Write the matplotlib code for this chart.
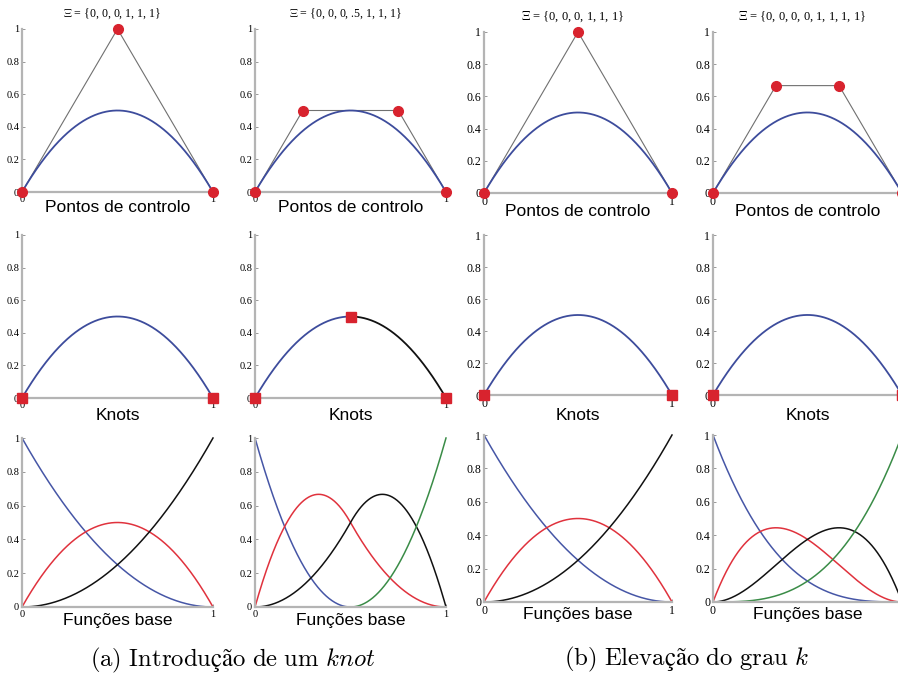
import numpy as np
import matplotlib.pyplot as plt

plt.rcParams['mathtext.fontset'] = 'cm'

W, H = 898, 677

# knot vectors, degrees and control points (one per column)
knots = [
    [0, 0, 0, 1, 1, 1],
    [0, 0, 0, 0.5, 1, 1, 1],
    [0, 0, 0, 1, 1, 1],
    [0, 0, 0, 0, 1, 1, 1, 1],
]
degrees = [2, 2, 2, 3]
ctrl_x = [[0, 0.5, 1], [0, 0.25, 0.75, 1], [0, 0.5, 1], [0, 0.333, 0.667, 1]]
ctrl_y = [[0, 1, 0], [0, 0.5, 0.5, 0], [0, 1, 0], [0, 0.667, 0.667, 0]]
titles = [r"$\Xi$ = {0, 0, 0, 1, 1, 1}", r"$\Xi$ = {0, 0, 0, .5, 1, 1, 1}",
          r"$\Xi$ = {0, 0, 0, 1, 1, 1}", r"$\Xi$ = {0, 0, 0, 0, 1, 1, 1, 1}"]
row_labels = ["Pontos de controlo", "Knots", "Funções base"]
yticks = [0, 0.2, 0.4, 0.6, 0.8, 1]
ytick_labels = ["0", "0.2", "0.4", "0.6", "0.8", "1"]
captions = [r"$\mathrm{(a)\ Introdução\ de\ um\ }\mathit{knot}$",
            r"$\mathrm{(b)\ Elevação\ do\ grau\ }\mathit{k}$"]

blue = "#3d4c9c"
red = "#d8232e"
basis_colors = ["#4656a6", "#e0323d", "#111111", "#3a8c47"]
seg_colors = ["#3d4c9c", "#111111"]

# panel boxes in pixels: x of u=0, x of u=1
col_x = [(22, 213), (255, 446), (484, 672), (713, 902)]
# rows: (y of 1, y of 0) for columns 1-2 and 3-4
rows_ab = [(29, 192), (235, 398), (438, 607)]
rows_cd = [(32, 193), (235, 395), (435, 602)]


def basis(i, k, t, u):
    if k == 0:
        if t[i] < t[i + 1] and t[i + 1] == t[-1]:
            return ((u >= t[i]) & (u <= t[i + 1])).astype(float)
        return ((u >= t[i]) & (u < t[i + 1])).astype(float)
    out = np.zeros_like(u)
    if t[i + k] > t[i]:
        out += (u - t[i]) / (t[i + k] - t[i]) * basis(i, k - 1, t, u)
    if t[i + k + 1] > t[i + 1]:
        out += (t[i + k + 1] - u) / (t[i + k + 1] - t[i + 1]) * basis(i + 1, k - 1, t, u)
    return out


def curve(t, k, px, py, u):
    n = len(px)
    N = [basis(i, k, t, u) for i in range(n)]
    cx = sum(N[i] * px[i] for i in range(n))
    cy = sum(N[i] * py[i] for i in range(n))
    return cx, cy, N


fig = plt.figure(figsize=(W / 100, H / 100), dpi=100)


def make_ax(x0, x1, y1, y0, fs, show_one=True):
    ax = fig.add_axes([x0 / W, (H - y0) / H, (x1 - x0) / W, (y0 - y1) / H])
    ax.set_xlim(0, 1)
    ax.set_ylim(0, 1)
    for s in ["top", "right"]:
        ax.spines[s].set_visible(False)
    for s in ["left", "bottom"]:
        ax.spines[s].set_color("#b4b4b4")
        ax.spines[s].set_linewidth(1.6)
    ax.set_xticks([0, 1])
    ax.set_xticklabels(["0", "1" if show_one else ""], family="Liberation Serif", fontsize=fs)
    ax.set_yticks(yticks)
    ax.set_yticklabels(ytick_labels, family="Liberation Serif", fontsize=fs)
    ax.tick_params(direction="in", length=2, width=0.6, color="#888888", pad=2)
    ax.set_facecolor("none")
    return ax


u = np.linspace(0, 1, 400)

for c in range(4):
    x0, x1 = col_x[c]
    rows = rows_ab if c < 2 else rows_cd
    fs = 7.5 if c < 2 else 8.5
    one = c < 3
    t = knots[c]
    k = degrees[c]
    cx, cy, N = curve(t, k, ctrl_x[c], ctrl_y[c], u)

    # control points
    ax = make_ax(x0, x1, rows[0][0], rows[0][1], fs, one)
    ax.plot(ctrl_x[c], ctrl_y[c], color="#707070", lw=0.8, clip_on=False)
    ax.plot(cx, cy, color=blue, lw=1.3, clip_on=False)
    ax.plot(ctrl_x[c], ctrl_y[c], "o", color=red, ms=7, clip_on=False, zorder=5)
    fig.text((x0 + x1) / 2 / W - 0.006, 1 - (14 if c < 2 else 17) / H, titles[c],
             family="Liberation Serif", fontsize=8.6 if c < 2 else 9,
             ha="center", va="center")
    fig.text((x0 + x1) / 2 / W, 1 - (rows[0][1] + (16 if c < 2 else 18)) / H,
             row_labels[0], fontsize=12.5, family="Liberation Sans",
             ha="center", va="center")

    # knots
    ax = make_ax(x0, x1, rows[1][0], rows[1][1], fs, one)
    breaks = sorted(set(t))
    for j in range(len(breaks) - 1):
        m = (u >= breaks[j]) & (u <= breaks[j + 1])
        ax.plot(cx[m], cy[m], color=seg_colors[j % 2], lw=1.3, clip_on=False)
    kx, ky, _ = curve(t, k, ctrl_x[c], ctrl_y[c], np.array(breaks, dtype=float))
    ax.plot(kx, ky, "s", color=red, ms=7, clip_on=False, zorder=5)
    fig.text((x0 + x1) / 2 / W, 1 - (rows[1][1] + (17 if c < 2 else 20)) / H,
             row_labels[1], fontsize=12.5, family="Liberation Sans",
             ha="center", va="center")

    # basis functions
    ax = make_ax(x0, x1, rows[2][0], rows[2][1], fs, one)
    for i in range(len(N)):
        ax.plot(u, N[i], color=basis_colors[i], lw=1.1, clip_on=False)
    fig.text((x0 + x1) / 2 / W, 1 - (rows[2][1] + 13) / H,
             row_labels[2], fontsize=12.5, family="Liberation Sans",
             ha="center", va="center")

fig.text(233 / W, 1 - 660 / H, captions[0], fontsize=17.8, ha="center", va="center")
fig.text(687 / W, 1 - 659 / H, captions[1], fontsize=17.8, ha="center", va="center")

fig.savefig("out.png", dpi=100)
